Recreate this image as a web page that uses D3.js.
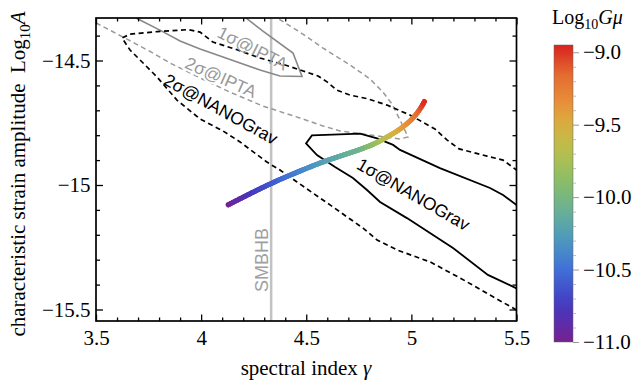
<!DOCTYPE html>
<html>
<head>
<meta charset="utf-8">
<script src="https://cdn.jsdelivr.net/npm/d3@7"></script>
<style>
  body { margin: 0; background: #fff; }
  svg { display: block; }
</style>
</head>
<body>
<svg id="chart" width="633" height="380"></svg>
<script>
// ---- data ----
const xTicks = [3.5, 4, 4.5, 5, 5.5];
const xTickLabels = ["3.5", "4", "4.5", "5", "5.5"];
const yTicks = [-15.5, -15, -14.5];
const yTickLabels = ["\u221215.5", "\u221215", "\u221214.5"];
const cbTicks = [-11, -10.5, -10, -9.5, -9];
const cbTickLabels = ["\u221211.0", "\u221210.5", "\u221210.0", "\u22129.5", "\u22129.0"];
const gmuRange = [-11, -8.95];

// 1 sigma NANOGrav (solid black), open at the right edge
const nano1 = [[5.5,-15.415],[5.364,-15.361],[5.198,-15.253],[4.979,-15.133],[4.851,-15.068],
  [4.789,-15.020],[4.722,-14.972],[4.637,-14.928],[4.551,-14.880],[4.499,-14.833],
  [4.527,-14.801],[4.756,-14.794],[4.837,-14.813],[4.913,-14.839],[4.946,-14.859],
  [5.136,-14.932],[5.374,-15.012],[5.436,-15.040],[5.5,-15.080]];

// 2 sigma NANOGrav (dashed black)
const nano2 = [[5.5,-15.502],[5.374,-15.442],[5.231,-15.373],[5.089,-15.309],[4.932,-15.261],
  [4.837,-15.221],[4.770,-15.173],[4.613,-15.080],[4.456,-14.988],[4.375,-14.940],
  [4.313,-14.908],[4.185,-14.827],[4.104,-14.783],[3.995,-14.735],[3.885,-14.659],
  [3.790,-14.566],[3.724,-14.510],[3.662,-14.458],[3.624,-14.410],[3.662,-14.394],
  [3.790,-14.384],[3.938,-14.376],[3.995,-14.386],[4.056,-14.426],[4.161,-14.454],
  [4.280,-14.490],[4.399,-14.518],[4.485,-14.542],[4.556,-14.562],[4.599,-14.586],
  [4.646,-14.619],[4.708,-14.639],[4.789,-14.653],[4.884,-14.679],[4.993,-14.719],
  [5.112,-14.775],[5.169,-14.819],[5.227,-14.855],[5.360,-14.884],[5.436,-14.900],[5.5,-14.940]];

// 1 sigma IPTA (solid gray)
const ipta1 = [[3.690,-14.329],[3.804,-14.378],[3.900,-14.422],[3.995,-14.454],[4.104,-14.486],
  [4.185,-14.510],[4.280,-14.538],[4.375,-14.562],[4.480,-14.564],[4.437,-14.470],
  [4.294,-14.382],[4.213,-14.329]];

// 2 sigma IPTA (dashed gray)
const ipta2 = [[3.5,-14.349],[3.638,-14.410],[3.771,-14.470],[3.852,-14.510],[3.995,-14.570],
  [4.137,-14.627],[4.294,-14.683],[4.470,-14.731],[4.580,-14.763],[4.661,-14.783],
  [4.837,-14.803],[4.946,-14.815],[4.984,-14.807],[4.946,-14.739],[4.908,-14.675],
  [4.865,-14.627],[4.803,-14.574],[4.708,-14.518],[4.580,-14.450],[4.470,-14.386],[4.361,-14.329]];

const smbhbGamma = 4.333;

// cosmic string prediction: [gamma, log10 A, log10 G mu]
const stringCurve = [[4.123,-15.082,-11.0],[4.247,-15.029,-10.75],[4.328,-14.996,-10.62],
  [4.408,-14.966,-10.5],[4.565,-14.912,-10.27],[4.661,-14.884,-10.15],[4.756,-14.857,-10.05],
  [4.827,-14.833,-9.85],[4.889,-14.805,-9.62],[4.946,-14.775,-9.45],[5.003,-14.735,-9.28],
  [5.041,-14.695,-9.12],[5.065,-14.660,-8.95]];

// ---- drawing ----
const serif = "'Liberation Serif','Times New Roman',serif";
const sans = "'Liberation Sans',Arial,sans-serif";
const svg = d3.select("#chart");
const plot = {left: 96, right: 516.5, top: 18, bottom: 321};

const x = d3.scaleLinear().domain([3.5, 5.5]).range([plot.left, plot.right]);
const y = d3.scaleLinear().domain([-15.5, -14.5]).range([309.5, 60.5]);

const rainbow = d3.scaleLinear()
  .domain([-11, -10.75, -10.5, -10.3, -10.1, -9.9, -9.7, -9.5, -9.35, -9.15, -8.95])
  .range(["#782090", "#4438c0", "#4070d8", "#4c98c0", "#68b098", "#88bc68", "#b4c050",
          "#d8b040", "#e8903a", "#e46a30", "#d8221f"])
  .interpolate(d3.interpolateRgb)
  .clamp(true);

const defs = svg.append("defs");
defs.append("clipPath").attr("id", "clip").append("rect")
  .attr("x", plot.left).attr("y", plot.top)
  .attr("width", plot.right - plot.left).attr("height", plot.bottom - plot.top);

const line = d3.line().x(d => x(d[0])).y(d => y(d[1]));
const body = svg.append("g").attr("clip-path", "url(#clip)");

// SMBHB
body.append("line")
  .attr("x1", x(smbhbGamma)).attr("x2", x(smbhbGamma))
  .attr("y1", plot.top).attr("y2", plot.bottom)
  .attr("stroke", "#c2c2c2").attr("stroke-width", 2.5);

body.append("path").attr("d", line(ipta2)).attr("fill", "none")
  .attr("stroke", "#999").attr("stroke-width", 1.5).attr("stroke-dasharray", "5,3.5");
body.append("path").attr("d", line(ipta1)).attr("fill", "none")
  .attr("stroke", "#888").attr("stroke-width", 1.6);
body.append("path").attr("d", line(nano2)).attr("fill", "none")
  .attr("stroke", "#000").attr("stroke-width", 1.7).attr("stroke-dasharray", "5,3.5");
body.append("path").attr("d", line(nano1)).attr("fill", "none")
  .attr("stroke", "#000").attr("stroke-width", 1.8);

// coloured string curve
const curveGen = d3.line().x(d => x(d[0])).y(d => y(d[1])).curve(d3.curveCatmullRom.alpha(0.5));
const tmp = body.append("path").attr("d", curveGen(stringCurve)).attr("fill", "none").attr("stroke", "none");
const node = tmp.node();
const total = node.getTotalLength();
const pts = stringCurve.map(d => [x(d[0]), y(d[1])]);
const cum = [0];
for (let i = 1; i < pts.length; i++) cum.push(cum[i - 1] + Math.hypot(pts[i][0] - pts[i - 1][0], pts[i][1] - pts[i - 1][1]));
const gAt = d3.scaleLinear().domain(cum.map(c => c / cum[cum.length - 1])).range(stringCurve.map(d => d[2]));
const N = 180;
const segs = d3.range(N).map(k => {
  const a = node.getPointAtLength(total * k / N), b = node.getPointAtLength(total * (k + 1) / N);
  return {a, b, g: gAt((k + 0.5) / N), k};
});
body.append("g").selectAll("line").data(segs).join("line")
  .attr("x1", d => d.a.x).attr("y1", d => d.a.y)
  .attr("x2", d => d.b.x).attr("y2", d => d.b.y)
  .attr("stroke", d => rainbow(d.g)).attr("stroke-width", 5)
  .attr("stroke-linecap", d => (d.k === 0 || d.k === N - 1) ? "butt" : "round");

// contour labels
const labels = [
  {text: "1\u03c3@IPTA", gx: 4.245, ly: -14.451, angle: 27, color: "#999", halo: false},
  {text: "2\u03c3@IPTA", gx: 4.094, ly: -14.568, angle: 24, color: "#999", halo: true},
  {text: "2\u03c3@NANOGrav", gx: 4.094, ly: -14.696, angle: 29, color: "#000", halo: false},
  {text: "1\u03c3@NANOGrav", gx: 5.010, ly: -15.038, angle: 30, color: "#000", halo: false}
];
svg.append("g").selectAll("text").data(labels).join("text")
  .attr("transform", d => `translate(${x(d.gx)},${y(d.ly)}) rotate(${d.angle})`)
  .attr("text-anchor", "middle").attr("dominant-baseline", "central")
  .attr("font-family", sans).attr("font-size", 17.5)
  .attr("fill", d => d.color)
  .attr("stroke", d => d.halo ? "#fff" : "none").attr("stroke-width", 4)
  .attr("paint-order", "stroke")
  .text(d => d.text);

svg.append("text")
  .attr("transform", `translate(${x(4.290)},${y(-15.301)}) rotate(-90)`)
  .attr("text-anchor", "middle").attr("dominant-baseline", "central")
  .attr("font-family", sans).attr("font-size", 18).attr("fill", "#a0a0a0")
  .text("SMBHB");

// axes
const xMinor = d3.range(35, 56).map(v => v / 10).filter(v => !xTicks.includes(v));
const yMinor = d3.range(-155, -143).map(v => v / 10).filter(v => !yTicks.includes(v));

function styleAxis(g) {
  g.select(".domain").remove();
  g.attr("font-family", serif).attr("font-size", 21);
  g.selectAll("line").attr("stroke", "#000").attr("stroke-width", 1.3);
  g.selectAll("text").attr("fill", "#000");
}

svg.append("g").attr("transform", `translate(0,${plot.bottom})`)
  .call(d3.axisBottom(x).tickValues(xMinor).tickSize(-3.5).tickFormat("")).call(styleAxis);
svg.append("g").attr("transform", `translate(0,${plot.bottom})`)
  .call(d3.axisBottom(x).tickValues(xTicks).tickSize(-6.5).tickPadding(9.5).tickFormat((d, i) => xTickLabels[i]))
  .call(styleAxis);
svg.append("g").attr("transform", `translate(0,${plot.top})`)
  .call(d3.axisTop(x).tickValues(xMinor).tickSize(-3.5).tickFormat("")).call(styleAxis);
svg.append("g").attr("transform", `translate(0,${plot.top})`)
  .call(d3.axisTop(x).tickValues(xTicks).tickSize(-6.5).tickFormat("")).call(styleAxis);

svg.append("g").attr("transform", `translate(${plot.left},0)`)
  .call(d3.axisLeft(y).tickValues(yMinor).tickSize(-4).tickFormat("")).call(styleAxis);
svg.append("g").attr("transform", `translate(${plot.left},0)`)
  .call(d3.axisLeft(y).tickValues(yTicks).tickSize(-7).tickPadding(5.5).tickFormat((d, i) => yTickLabels[i]))
  .call(styleAxis);
svg.append("g").attr("transform", `translate(${plot.right},0)`)
  .call(d3.axisRight(y).tickValues(yMinor).tickSize(-4).tickFormat("")).call(styleAxis);
svg.append("g").attr("transform", `translate(${plot.right},0)`)
  .call(d3.axisRight(y).tickValues(yTicks).tickSize(-7).tickFormat("")).call(styleAxis);

svg.append("rect")
  .attr("x", plot.left).attr("y", plot.top)
  .attr("width", plot.right - plot.left).attr("height", plot.bottom - plot.top)
  .attr("fill", "none").attr("stroke", "#000").attr("stroke-width", 1.7);

// axis titles
svg.append("text")
  .attr("x", 306).attr("y", 375).attr("text-anchor", "middle")
  .attr("font-family", serif).attr("font-size", 21)
  .call(t => t.append("tspan").text("spectral index "))
  .call(t => t.append("tspan").attr("font-style", "italic").text("\u03b3"));

svg.append("text")
  .attr("transform", "translate(25,174) rotate(-90)").attr("text-anchor", "middle")
  .attr("font-family", serif).attr("font-size", 21)
  .call(t => t.append("tspan").text("characteristic strain amplitude\u00a0\u00a0Log"))
  .call(t => t.append("tspan").attr("font-size", 15).attr("dy", 5).text("10"))
  .call(t => t.append("tspan").attr("font-style", "italic").attr("dy", -5).text("A"));

// colour bar
const cb = {x: 554, w: 19};
const cbY = d3.scaleLinear().domain(gmuRange).range([342, 45]);
const grad = defs.append("linearGradient").attr("id", "cbgrad")
  .attr("x1", 0).attr("y1", 1).attr("x2", 0).attr("y2", 0);
grad.selectAll("stop").data(d3.range(0, 1.0001, 0.05)).join("stop")
  .attr("offset", d => d)
  .attr("stop-color", d => rainbow(gmuRange[0] + d * (gmuRange[1] - gmuRange[0])));
svg.append("rect")
  .attr("x", cb.x).attr("y", cbY(gmuRange[1]))
  .attr("width", cb.w).attr("height", cbY(gmuRange[0]) - cbY(gmuRange[1]))
  .attr("fill", "url(#cbgrad)").attr("stroke", "#666").attr("stroke-width", 0.5);

const cbMinor = d3.range(-110, -89).map(v => v / 10).filter(v => !cbTicks.includes(v));
svg.append("g").attr("transform", `translate(${cb.x + cb.w},0)`)
  .call(d3.axisRight(cbY).tickValues(cbMinor).tickSize(3).tickFormat(""))
  .call(styleAxis)
  .call(g => g.selectAll("line").attr("stroke", "#bbb").attr("stroke-width", 1));
svg.append("g").attr("transform", `translate(${cb.x + cb.w},0)`)
  .call(d3.axisRight(cbY).tickValues(cbTicks).tickSize(6).tickPadding(4).tickFormat((d, i) => cbTickLabels[i]))
  .call(styleAxis)
  .call(g => g.selectAll("line").attr("stroke", "#999").attr("stroke-width", 1));

svg.append("text")
  .attr("x", 552).attr("y", 24)
  .attr("font-family", serif).attr("font-size", 20)
  .call(t => t.append("tspan").text("Log"))
  .call(t => t.append("tspan").attr("font-size", 14).attr("dy", 5).text("10"))
  .call(t => t.append("tspan").attr("font-style", "italic").attr("dy", -5).text("G\u03bc"));
</script>
</body>
</html>
